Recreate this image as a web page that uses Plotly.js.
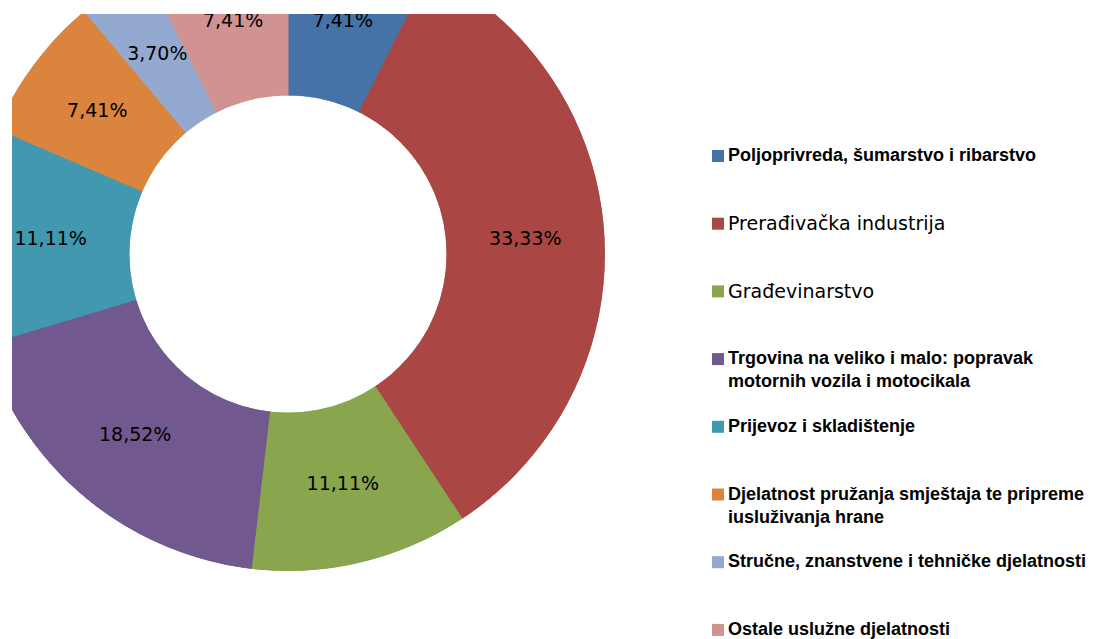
<!DOCTYPE html>
<html>
<head>
<meta charset="utf-8">
<script src="https://cdn.plot.ly/plotly-3.0.1.min.js"></script>
<style>
  html, body { margin: 0; padding: 0; background: #ffffff; width: 1100px; height: 639px; overflow: hidden; }
  #clip { position: absolute; left: 12px; top: 14px; width: 1088px; height: 625px; overflow: hidden; }
  #chart { position: absolute; left: -41px; top: -77px; width: 1129px; height: 702px; }
</style>
</head>
<body>
<div id="clip"><div id="chart"></div></div>
<script>
// ---------- data ----------
const categories = [
  "Poljoprivreda, šumarstvo i ribarstvo",
  "Prerađivačka industrija",
  "Građevinarstvo",
  "Trgovina na veliko i malo: popravak<br>motornih vozila i motocikala",
  "Prijevoz i skladištenje",
  "Djelatnost pružanja smještaja te pripreme<br>iusluživanja hrane",
  "Stručne, znanstvene i tehničke djelatnosti",
  "Ostale uslužne djelatnosti"
];
const shares = [7.41, 33.33, 11.11, 18.52, 11.11, 7.41, 3.70, 7.41];

// ---------- style ----------
const colors = ['#4572A7', '#AA4643', '#89A54E', '#71588F', '#4198AF', '#DB843D', '#93A9CF', '#D19392'];
const regularLegendItems = [1, 2];      // items drawn in a regular (non-bold) face

// ---------- layout geometry (pixels in the page) ----------
const W = 1129, H = 702;                // plot div size
const OX = -29, OY = -63;               // page position of plot div
const ring = { cx: 288, cy: 254, r: 317 };
const legX = 718, legY0 = 156, legStep = 67.7;

const polarDomain = {
  x: [(ring.cx - ring.r - OX) / W, (ring.cx + ring.r - OX) / W],
  y: [1 - (ring.cy + ring.r - OY) / H, 1 - (ring.cy - ring.r - OY) / H]
};
const legDomX = [0.62, 1];

// ---------- derived slice angles ----------
const total = shares.reduce((a, b) => a + b, 0);
const widths = shares.map(v => 360 * v / total);
let cum = 0;
const mids = shares.map(v => { const m = 360 * (cum + v / 2) / total; cum += v; return m; });
const labelText = shares.map(v => v.toFixed(2).replace('.', ',') + '%');

const data = [
  {
    type: 'barpolar',
    subplot: 'polar',
    r: shares.map(() => 1),
    theta: mids,
    width: widths,
    text: categories,
    marker: { color: colors, line: { color: colors, width: 1 } },
    hoverinfo: 'text',
    showlegend: false
  },
  {
    type: 'scatterpolar',
    subplot: 'polar',
    mode: 'text',
    r: shares.map(() => 0.5),
    theta: mids,
    text: labelText,
    textposition: 'middle center',
    textfont: { family: 'DejaVu Sans, Verdana, sans-serif', size: 19, color: '#000000' },
    cliponaxis: false,
    hoverinfo: 'skip',
    showlegend: false
  },
  {
    type: 'scatter',
    mode: 'markers',
    x: categories.map(() => 0),
    y: categories.map((c, i) => i),
    marker: { symbol: 'square', size: 12, color: colors, line: { width: 0 } },
    cliponaxis: false,
    hoverinfo: 'skip',
    showlegend: false
  }
];

const annotations = categories.map((c, i) => {
  const regular = regularLegendItems.includes(i);
  return {
    xref: 'x', yref: 'y', x: 0, y: i,
    text: c,
    showarrow: false,
    xanchor: 'left', yanchor: 'top', align: 'left',
    xshift: 8, yshift: regular ? 13.5 : 13,
    font: regular
      ? { family: 'DejaVu Sans, Verdana, sans-serif', size: 19, color: '#000000' }
      : { family: 'Liberation Sans, Arial, sans-serif', size: 18, color: '#000000', weight: 'bold' }
  };
});

const layout = {
  width: W, height: H, autosize: false,
  margin: { l: 0, r: 0, t: 0, b: 0, pad: 0 },
  paper_bgcolor: 'rgba(0,0,0,0)',
  plot_bgcolor: 'rgba(0,0,0,0)',
  showlegend: false,
  polar: {
    domain: polarDomain,
    hole: 0.5,
    bargap: 0,
    bgcolor: 'rgba(0,0,0,0)',
    radialaxis: { range: [0, 1], visible: false },
    angularaxis: { rotation: 90, direction: 'clockwise', visible: false }
  },
  xaxis: {
    domain: legDomX,
    range: [OX + legDomX[0] * W - legX, OX + legDomX[1] * W - legX],
    visible: false, fixedrange: true
  },
  yaxis: {
    domain: [0, 1],
    range: [(OY + H - legY0) / legStep, (OY - legY0) / legStep],
    visible: false, fixedrange: true
  },
  annotations: annotations
};

Plotly.newPlot('chart', data, layout, { staticPlot: true, displayModeBar: false });
</script>
</body>
</html>
